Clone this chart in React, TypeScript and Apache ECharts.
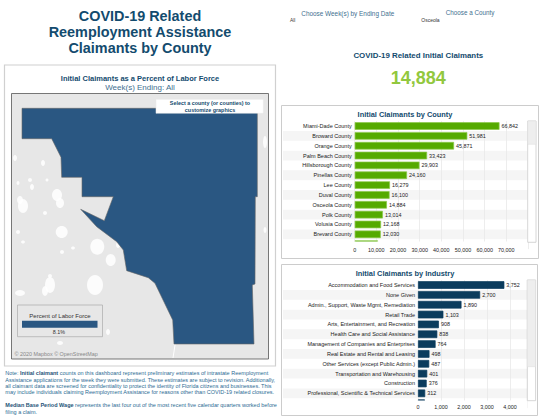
import React, { useEffect, useRef } from "react";
import * as echarts from "echarts";

const FONT = '"Liberation Sans", Arial, sans-serif';

const countyNames = ["Miami-Dade County", "Broward County", "Orange County", "Palm Beach County", "Hillsborough County", "Pinellas County", "Lee County", "Duval County", "Osceola County", "Polk County", "Volusia County", "Brevard County", "Seminole County"];
const countyValues = [66842, 51981, 45871, 33423, 29903, 24160, 16279, 16100, 14884, 13014, 12168, 12030, 10743];
const industryNames = ["Accommodation and Food Services", "None Given", "Admin., Support, Waste Mgmt, Remediation", "Retail Trade", "Arts, Entertainment, and Recreation", "Health Care and Social Assistance", "Management of Companies and Enterprises", "Real Estate and Rental and Leasing", "Other Services (except Public Admin.)", "Transportation and Warehousing", "Construction", "Professional, Scientific & Technical Services", "Wholesale Trade"];
const industryValues = [3752, 2700, 1890, 1103, 908, 838, 764, 498, 487, 401, 376, 312, 298];
const titleLines = ["COVID-19 Related", "Reemployment Assistance", "Claimants by County"];
const noteLines = [
  "Note: {b|Initial claimant} counts on this dashboard represent preliminary estimates of intrastate Reemployment",
  "Assistance applications for the week they were submitted. These estimates are subject to revision. Additionally,",
  "all claimant data are screened for confidentiality to protect the identity of Florida citizens and businesses. This",
  "may include individuals claiming Reemployment Assistance for reasons other than COVID-19 related closures.",
];
const wageLines = [
  "{b|Median Base Period Wage} represents the last four out of the most recent five calendar quarters worked before",
  "filing a claim.",
];

const countyOutline = [[22, 108.3], [257.3, 108.3], [257.3, 196.7], [255.3, 196.7], [255, 284], [252.3, 285], [254, 344], [174, 344], [172.7, 320], [155, 283.3], [148.3, 277.7], [126.7, 270.7], [123.3, 250], [116.7, 241.7], [96.7, 226.7], [80.7, 209.3], [104.3, 220.7], [113.3, 196.7], [82, 196.7], [82, 177.3], [61.7, 177.3], [61, 157.3], [51.7, 138.7], [22, 138.7]];
const lakes = [[97.3, 246.7, 7, 8], [95, 285, 8, 10], [110.7, 260, 5, 6], [61.7, 232, 6, 6], [23, 206, 5, 7], [60, 203, 4, 5], [50, 285, 5, 8], [45, 291, 3, 5], [20, 293, 5, 3], [57, 195, 5, 6], [20, 200, 3, 4], [43, 163, 2, 3], [15, 158, 2, 3], [265, 142, 2, 6], [32, 187, 2, 3], [18, 232, 2, 2], [23, 242, 2, 1.5], [50, 276, 2, 2], [62, 252, 2, 2], [73, 248, 2, 1.5], [265, 230, 1.5, 3], [45, 213, 2, 2], [30, 180, 2, 2], [60, 343, 3, 2], [118, 245, 2, 3], [108, 332, 2, 3], [47, 180, 1.5, 1.5], [18, 183, 1.5, 2]];

const fmt = (v: number) => Math.round(v).toLocaleString("en-US");
const BLUE = "#2a5782";
const NAVY = "#134b6e";
const MID = "#3f7090";
const AXIS_SIZE = 5.4;

function text(x: number, y: number, t: string, size: number, color: string, opts: any = {}) {
  const { align = "center", weight = "normal", z = 20, rich } = opts;
  return { type: "text", x, y, z, style: { text: t, fontFamily: FONT, fontSize: size, fontWeight: weight, fill: color, textAlign: align, textVerticalAlign: "middle", rich } };
}
function box(x: number, y: number, w: number, h: number, fill: string, stroke: string | null, z = -5, lineWidth = 1) {
  return { type: "rect", z, shape: { x, y, width: w, height: h }, style: { fill, stroke: stroke ?? undefined, lineWidth } };
}
function stripes(x: number, w: number, top: number, step: number, count: number) {
  const out: any[] = [];
  for (let i = 1; i < count; i += 2) out.push(box(x, top + i * step, w, step, "#f5f5f5", null, -4));
  return out;
}

function barSeries(values: number[], color: string, border: string, axisIndex: number) {
  return {
    type: "bar", xAxisIndex: axisIndex, yAxisIndex: axisIndex, data: values, barWidth: 7.6,
    itemStyle: { color, borderColor: border, borderWidth: 0.7 },
    label: { show: true, position: "right", distance: 2, fontFamily: FONT, fontSize: AXIS_SIZE, color: "#222", formatter: (p: any) => fmt(p.value) },
  };
}
function gridAxis(gridIndex: number, max: number, interval: number) {
  return {
    type: "value", gridIndex, position: "bottom", min: 0, max, interval,
    axisLine: { show: false }, axisTick: { show: false }, axisLabel: { show: false },
    splitLine: { lineStyle: { color: "#e9e9e9", width: 0.8 } },
  };
}
function tickAxis(gridIndex: number, max: number, interval: number, margin: number) {
  return {
    type: "value", gridIndex, position: "bottom", min: 0, max, interval, z: 10,
    axisLine: { show: false }, axisTick: { show: false }, splitLine: { show: false },
    axisLabel: { margin, fontFamily: FONT, fontSize: AXIS_SIZE, color: "#222", showMaxLabel: false, hideOverlap: false, formatter: (v: number) => fmt(v) },
  };
}
function yAxis(gridIndex: number, data: string[]) {
  return {
    type: "category", gridIndex, data, inverse: true,
    axisLine: { show: false }, axisTick: { show: false },
    axisLabel: { interval: 0, margin: 3, fontFamily: FONT, fontSize: 5.5, color: "#222" },
    splitLine: { show: false },
  };
}

export default function App() {
  const ref = useRef<HTMLDivElement>(null);
  useEffect(() => {
    document.body.style.margin = "0";
    const chart = echarts.init(ref.current!, undefined, { renderer: "svg" });
    const step = 128 / 13;
    const rich = { b: { fontFamily: FONT, fontSize: 5.5, fontWeight: "bold", fill: "#1f5378" } };
    const elements: any[] = [
      // left panel and map
      box(4.5, 65, 271, 301, "#fff", "#d0d0d0", -8, 1.2),
      box(11.5, 93.5, 257, 265.5, "#e7e7e7", "#555", -7, 0.8),
      ...lakes.map(([cx, cy, rx, ry]) => ({ type: "ellipse", z: -6, shape: { cx, cy, rx, ry }, style: { fill: "#fff", opacity: 0.85 } })),
      { type: "polyline", z: -6, shape: { points: [[173, 320], [175, 345], [173, 358]] }, style: { stroke: "#fff", lineWidth: 1, fill: "none" } },
      { type: "polygon", z: 1, shape: { points: countyOutline }, style: { fill: BLUE, stroke: "#666", lineWidth: 0.6 } },
      box(156, 99.3, 107.3, 14, "#fff", "#e8e8e8", 3, 0.5),
      text(210, 103, "Select a county (or counties) to", 5.4, NAVY, { weight: "bold" }),
      text(210, 109.5, "customize graphics", 5.4, NAVY, { weight: "bold" }),
      box(17.5, 305, 85, 31.7, "#e7e7e7", "#aaa", 3, 0.7),
      box(22, 320.7, 75.5, 7, BLUE, null, 4),
      text(60, 315.5, "Percent of Labor Force", 6, "#333"),
      text(59, 331.8, "8.1%", 5.4, "#333"),
      text(14.5, 354.3, "© 2020 Mapbox © OpenStreetMap", 5.4, "#888", { align: "left" }),
      // titles
      ...titleLines.map((t, i) => text(140, 16 + i * 16, t, 14.4, NAVY, { weight: "bold" })),
      text(140, 78, "Initial Claimants as a Percent of Labor Force", 7.5, NAVY, { weight: "bold" }),
      text(140, 87, "Week(s) Ending: All", 8, MID),
      // top right
      text(301.3, 13.5, "Choose Week(s) by Ending Date", 6.4, MID, { align: "left" }),
      text(290, 20.3, "All", 4.8, "#333", { align: "left" }),
      text(421.3, 19.7, "Osceola", 5, "#333", { align: "left" }),
      text(445.7, 12.7, "Choose a County", 6.3, MID, { align: "left" }),
      text(418.3, 55, "COVID-19 Related Initial Claimants", 7.9, NAVY, { weight: "bold" }),
      text(418.3, 78, "14,884", 18, "#92c83e", { weight: "bold" }),
      // county panel
      box(281.5, 105.5, 257, 153, "#fff", "#ccc", -8, 1),
      ...stripes(283, 244.5, 121.1, step, 13),
      text(405, 114.3, "Initial Claimants by County", 7.4, NAVY, { weight: "bold" }),
      box(283, 241.5, 244.5, 15, "#fff", null, 5),
      box(527.7, 121, 8.3, 121.3, "#fff", "#ccc", 6, 0.8),
      box(527.7, 121, 8.3, 23.3, "#eee", "#ddd", 7, 0.5),
      // industry panel
      box(281.5, 264.5, 256, 151, "#fff", "#ccc", -8, 1),
      ...stripes(283, 244, 280.1, step, 13),
      text(405, 273.7, "Initial Claimants by Industry", 7.4, NAVY, { weight: "bold" }),
      box(283, 400.5, 244.5, 13, "#fff", null, 5),
      box(527.3, 280, 8.3, 120.7, "#fff", "#ccc", 6, 0.8),
      box(527.3, 280, 8.3, 86.7, "#eee", "#ddd", 7, 0.5),
      // notes
      ...noteLines.map((t, i) => text(5.3, 373.3 + i * 6.35, t, 5.5, "#2d6c94", { align: "left", rich })),
      ...wageLines.map((t, i) => text(5.3, 405 + i * 6.6, t, 5.5, "#2d6c94", { align: "left", rich })),
    ];
    chart.setOption({
      animation: false,
      backgroundColor: "#fff",
      grid: [
        { left: 354.7, top: 121.1, width: 173.3, height: 128, containLabel: false },
        { left: 418, top: 280.1, width: 109.3, height: 128, containLabel: false },
      ],
      xAxis: [gridAxis(0, 80000, 10000), gridAxis(1, 4750, 1000), tickAxis(0, 80000, 10000, -2), tickAxis(1, 4750, 1000, -4)],
      yAxis: [yAxis(0, countyNames), yAxis(1, industryNames)],
      series: [barSeries(countyValues, "#55aa00", "#8cc84a", 0), barSeries(industryValues, "#0b3c5d", "#0b3c5d", 1)],
      graphic: { elements },
    });
    return () => chart.dispose();
  }, []);
  return <div ref={ref} style={{ position: "absolute", left: 0, top: 0, width: 544, height: 420 }} />;
}
